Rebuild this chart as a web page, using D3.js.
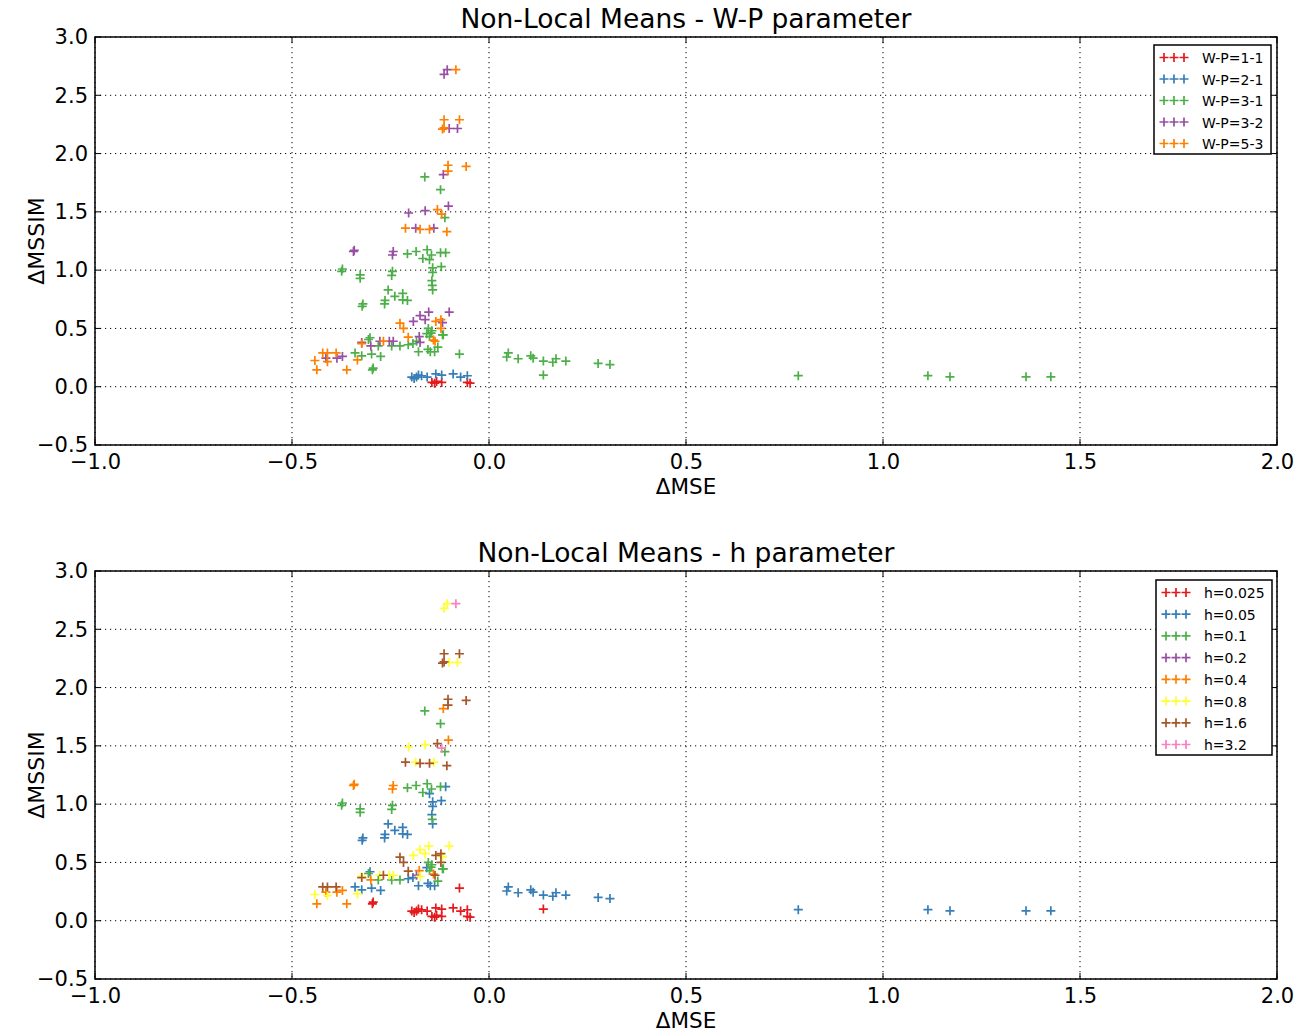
<!DOCTYPE html>
<meta charset="utf-8">
<head>
    <title>Non-Local Means parameters</title>
    <script src="https://d3js.org/d3.v7.min.js"></script>
    <style>
        body { margin: 0; background: #fff; }
        text { font-family: "DejaVu Sans", sans-serif; fill: #000; }
    </style>
</head>

<body>
    <div id="svg-container"></div>
</body>

<script>

const width = 1309;
const height = 1033;

// legend categories
const wpLabels = ["W-P=1-1", "W-P=2-1", "W-P=3-1", "W-P=3-2", "W-P=5-3"];
const hValues = [0.025, 0.05, 0.1, 0.2, 0.4, 0.8, 1.6, 3.2];
const hLabels = hValues.map(function(h) { return "h=" + h; });
const palette = ["#e41a1c", "#377eb8", "#4daf4a", "#984ea3", "#ff7f00", "#ffff33", "#a65628", "#f781bf"];

const xTicks = [-1.0, -0.5, 0.0, 0.5, 1.0, 1.5, 2.0];
const yTicks = [-0.5, 0.0, 0.5, 1.0, 1.5, 2.0, 2.5, 3.0];

// points per W-P setting: [dMSE, dMSSIM, h]
const wp11 = [
    [-0.145, 0.037, 0.025], [-0.133, 0.045, 0.025], [-0.120, 0.037, 0.025],
    [-0.138, 0.030, 0.025], [-0.055, 0.037, 0.025], [-0.048, 0.030, 0.025]
];
const wp21 = [
    [-0.196, 0.083, 0.025], [-0.184, 0.083, 0.025], [-0.179, 0.100, 0.025],
    [-0.171, 0.094, 0.025], [-0.157, 0.083, 0.025], [-0.135, 0.110, 0.025],
    [-0.120, 0.100, 0.025], [-0.091, 0.110, 0.025], [-0.072, 0.083, 0.025],
    [-0.055, 0.094, 0.025], [-0.190, 0.070, 0.025]
];
const wp31 = [
    [-0.163, 1.80, 0.1], [-0.123, 1.69, 0.1], [-0.112, 1.45, 0.1],
    [-0.207, 1.14, 0.1], [-0.185, 1.16, 0.1], [-0.157, 1.175, 0.1],
    [-0.168, 1.10, 0.1], [-0.146, 1.13, 0.1], [-0.151, 1.09, 0.05],
    [-0.123, 1.15, 0.1], [-0.110, 1.15, 0.05],
    [-0.374, 0.99, 0.1], [-0.372, 1.01, 0.1], [-0.327, 0.96, 0.1],
    [-0.327, 0.93, 0.1], [-0.245, 0.99, 0.1], [-0.247, 0.955, 0.1],
    [-0.143, 1.02, 0.05], [-0.121, 1.03, 0.05], [-0.143, 0.98, 0.05],
    [-0.145, 0.91, 0.05], [-0.144, 0.87, 0.1], [-0.143, 0.83, 0.05],
    [-0.256, 0.83, 0.05], [-0.239, 0.775, 0.05], [-0.219, 0.80, 0.05],
    [-0.207, 0.74, 0.05], [-0.219, 0.745, 0.05], [-0.264, 0.74, 0.05],
    [-0.265, 0.71, 0.05], [-0.320, 0.71, 0.05], [-0.322, 0.69, 0.05],
    [-0.154, 0.50, 0.1], [-0.145, 0.48, 0.1], [-0.118, 0.445, 0.1],
    [-0.158, 0.455, 0.05], [-0.147, 0.46, 0.1], [-0.151, 0.43, 0.1],
    [-0.116, 0.445, 0.1], [-0.184, 0.39, 0.2], [-0.193, 0.37, 0.05],
    [-0.205, 0.36, 0.05], [-0.179, 0.30, 0.05], [-0.155, 0.32, 0.05],
    [-0.149, 0.30, 0.05], [-0.138, 0.30, 0.05], [-0.130, 0.34, 0.1],
    [-0.075, 0.28, 0.025], [-0.302, 0.42, 0.05], [-0.306, 0.405, 0.1],
    [-0.281, 0.35, 0.1], [-0.247, 0.35, 0.1], [-0.226, 0.35, 0.1],
    [-0.340, 0.29, 0.05], [-0.323, 0.265, 0.05], [-0.298, 0.28, 0.05],
    [-0.275, 0.26, 0.05], [-0.296, 0.145, 0.025], [-0.294, 0.16, 0.025],
    [0.045, 0.255, 0.05], [0.049, 0.29, 0.05], [0.074, 0.24, 0.05],
    [0.106, 0.265, 0.05], [0.112, 0.245, 0.05], [0.138, 0.22, 0.05],
    [0.138, 0.10, 0.025], [0.162, 0.21, 0.05], [0.170, 0.24, 0.05],
    [0.195, 0.22, 0.05], [0.277, 0.20, 0.05], [0.307, 0.19, 0.05],
    [0.785, 0.095, 0.05], [1.114, 0.095, 0.05], [1.170, 0.085, 0.05],
    [1.363, 0.085, 0.05], [1.426, 0.085, 0.05]
];
const wp32 = [
    [-0.114, 2.68, 0.8], [-0.106, 2.72, 0.8],
    [-0.101, 2.215, 0.8], [-0.080, 2.215, 0.8],
    [-0.116, 1.82, 0.4], [-0.103, 1.55, 0.4],
    [-0.204, 1.49, 0.8], [-0.162, 1.51, 0.8],
    [-0.186, 1.36, 0.8], [-0.140, 1.36, 0.8],
    [-0.344, 1.16, 0.4], [-0.342, 1.17, 0.4], [-0.243, 1.16, 0.4], [-0.245, 1.13, 0.4],
    [-0.175, 0.61, 0.8], [-0.153, 0.64, 0.8], [-0.101, 0.64, 0.8],
    [-0.192, 0.56, 0.8], [-0.162, 0.575, 0.8], [-0.118, 0.55, 0.8],
    [-0.177, 0.43, 0.4], [-0.175, 0.38, 0.8],
    [-0.253, 0.39, 0.8], [-0.243, 0.39, 0.8], [-0.277, 0.39, 0.8],
    [-0.323, 0.38, 0.8], [-0.300, 0.35, 0.4],
    [-0.414, 0.245, 0.4], [-0.386, 0.245, 0.4], [-0.372, 0.26, 0.4]
];
const wp53 = [
    [-0.084, 2.72, 3.2],
    [-0.114, 2.29, 1.6], [-0.075, 2.29, 1.6], [-0.118, 2.21, 1.6], [-0.114, 2.22, 1.6],
    [-0.104, 1.90, 1.6], [-0.058, 1.89, 1.6], [-0.104, 1.85, 1.6],
    [-0.131, 1.52, 1.6], [-0.120, 1.48, 3.2],
    [-0.212, 1.36, 1.6], [-0.175, 1.35, 1.6], [-0.151, 1.35, 1.6], [-0.107, 1.33, 1.6],
    [-0.226, 0.545, 1.6], [-0.217, 0.50, 1.6],
    [-0.135, 0.56, 1.6], [-0.122, 0.575, 1.6], [-0.122, 0.50, 1.6],
    [-0.205, 0.425, 1.6], [-0.137, 0.39, 1.6], [-0.141, 0.40, 0.4],
    [-0.268, 0.39, 1.6], [-0.323, 0.37, 1.6], [-0.334, 0.23, 0.8],
    [-0.361, 0.145, 0.4],
    [-0.422, 0.29, 1.6], [-0.410, 0.29, 1.6], [-0.388, 0.29, 1.6],
    [-0.442, 0.225, 0.8], [-0.410, 0.215, 0.8], [-0.437, 0.145, 0.4]
];

const wpSeries = [wp11, wp21, wp31, wp32, wp53];

const svg = d3.select("#svg-container")
              .append("svg")
                .attr("width", width)
                .attr("height", height);

const allPoints = [];
wpSeries.forEach(function(s, i) {
    s.forEach(function(p) { allPoints.push({ x: p[0], y: p[1], wp: i, h: hValues.indexOf(p[2]) }); });
});

// top: grouped by W-P, bottom: grouped by h
const topGroups = wpLabels.map(function(l, i) {
    return allPoints.filter(function(d) { return d.wp === i; });
});
const bottomGroups = hLabels.map(function(l, i) {
    return allPoints.filter(function(d) { return d.h === i; });
});

drawPanel({ top: 37, bottom: 445 }, "Non-Local Means - W-P parameter", topGroups, wpLabels,
          { x: 1154, y: 45, w: 117, h: 109 });
drawPanel({ top: 571, bottom: 979 }, "Non-Local Means - h parameter", bottomGroups, hLabels,
          { x: 1156, y: 580, w: 116, h: 175 });

function plusPath(s) {
    return "M" + (-s) + ",0H" + s + "M0," + (-s) + "V" + s;
}

function drawPanel(box, title, groups, labels, lg) {
    const left = 95, right = 1277;
    const x = d3.scaleLinear().domain([-1, 2]).range([left, right]);
    const y = d3.scaleLinear().domain([-0.5, 3]).range([box.bottom, box.top]);
    const g = svg.append("g");

    // dotted grid
    g.selectAll(".gx").data(xTicks).enter().append("line")
        .attr("x1", function(d) { return x(d); }).attr("x2", function(d) { return x(d); })
        .attr("y1", box.top).attr("y2", box.bottom)
        .attr("stroke", "#000").attr("stroke-width", 1).attr("stroke-dasharray", "1.2,3.8");
    g.selectAll(".gy").data(yTicks).enter().append("line")
        .attr("y1", function(d) { return y(d); }).attr("y2", function(d) { return y(d); })
        .attr("x1", left).attr("x2", right)
        .attr("stroke", "#000").attr("stroke-width", 1).attr("stroke-dasharray", "1.2,3.8");

    // points
    groups.forEach(function(pts, i) {
        g.append("g").selectAll("path").data(pts).enter().append("path")
            .attr("transform", function(d) { return `translate(${x(d.x)},${y(d.y)})`; })
            .attr("d", plusPath(4.5))
            .attr("fill", "none")
            .attr("stroke", palette[i])
            .attr("stroke-width", 1.7);
    });

    // frame
    g.append("rect")
        .attr("x", left).attr("y", box.top)
        .attr("width", right - left).attr("height", box.bottom - box.top)
        .attr("fill", "none").attr("stroke", "#000").attr("stroke-width", 1.5);

    // inward ticks on all sides
    const tl = 6;
    xTicks.forEach(function(t) {
        g.append("line").attr("x1", x(t)).attr("x2", x(t)).attr("y1", box.bottom).attr("y2", box.bottom - tl)
            .attr("stroke", "#000").attr("stroke-width", 1);
        g.append("line").attr("x1", x(t)).attr("x2", x(t)).attr("y1", box.top).attr("y2", box.top + tl)
            .attr("stroke", "#000").attr("stroke-width", 1);
    });
    yTicks.forEach(function(t) {
        g.append("line").attr("y1", y(t)).attr("y2", y(t)).attr("x1", left).attr("x2", left + tl)
            .attr("stroke", "#000").attr("stroke-width", 1);
        g.append("line").attr("y1", y(t)).attr("y2", y(t)).attr("x1", right).attr("x2", right - tl)
            .attr("stroke", "#000").attr("stroke-width", 1);
    });

    // tick labels through d3 axes
    const fmt = d3.format(".1f");
    const xAxis = g.append("g").attr("transform", `translate(0,${box.bottom})`)
        .call(d3.axisBottom(x).tickValues(xTicks).tickFormat(fmt).tickSize(0).tickPadding(9));
    const yAxis = g.append("g").attr("transform", `translate(${left},0)`)
        .call(d3.axisLeft(y).tickValues(yTicks).tickFormat(fmt).tickSize(0).tickPadding(7));
    [xAxis, yAxis].forEach(function(a) {
        a.select(".domain").remove();
        a.selectAll("text").style("font-size", "21px").style("font-family", "DejaVu Sans");
    });

    // title and axis labels
    g.append("text").attr("x", (left + right) / 2).attr("y", box.top - 9)
        .attr("text-anchor", "middle").style("font-size", "26.5px").text(title);
    g.append("text").attr("x", (left + right) / 2).attr("y", box.bottom + 49)
        .attr("text-anchor", "middle").style("font-size", "21.5px").text("ΔMSE");
    g.append("text")
        .attr("transform", `translate(${44},${(box.top + box.bottom) / 2}) rotate(-90)`)
        .attr("text-anchor", "middle").style("font-size", "22px").text("ΔMSSIM");

    // legend
    const leg = g.append("g");
    leg.append("rect").attr("x", lg.x).attr("y", lg.y).attr("width", lg.w).attr("height", lg.h)
        .attr("fill", "#fff").attr("stroke", "#000").attr("stroke-width", 1.5);
    const step = (lg.h - 23) / (labels.length - 1);
    labels.forEach(function(l, i) {
        const cy = lg.y + 12.5 + i * step;
        [10, 20, 30].forEach(function(dx) {
            leg.append("path").attr("transform", `translate(${lg.x + dx},${cy})`)
                .attr("d", plusPath(4.5)).attr("fill", "none")
                .attr("stroke", palette[i]).attr("stroke-width", 1.7);
        });
        leg.append("text").attr("x", lg.x + 48).attr("y", cy + 5.5)
            .style("font-size", "14px").text(l);
    });
}
</script>
